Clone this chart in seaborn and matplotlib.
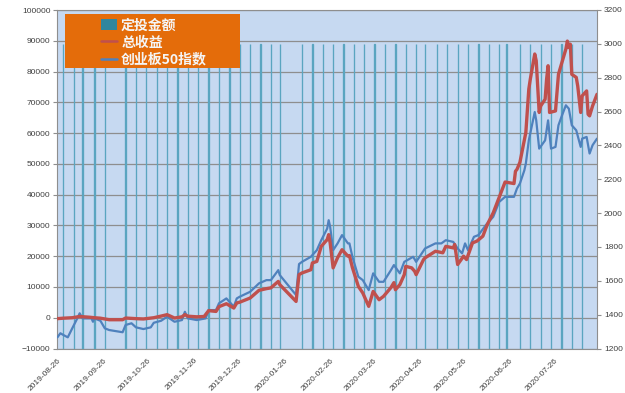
import matplotlib
matplotlib.use("Agg")
import matplotlib.pyplot as plt
import matplotlib.dates as mdates
from matplotlib.patches import Patch, Rectangle
from matplotlib.lines import Line2D
from matplotlib.font_manager import FontProperties
import pandas as pd
import seaborn as sns

# weekly fixed investment (right axis)
invest_dates = ["2019-08-30", "2019-09-06", "2019-09-12", "2019-09-20", "2019-09-27",
                "2019-10-11", "2019-10-18", "2019-10-25", "2019-11-01", "2019-11-08",
                "2019-11-15", "2019-11-22", "2019-11-29", "2019-12-06", "2019-12-13",
                "2019-12-20", "2019-12-27", "2020-01-03", "2020-01-10", "2020-01-17",
                "2020-01-23", "2020-02-07", "2020-02-14", "2020-02-21", "2020-02-28",
                "2020-03-06", "2020-03-13", "2020-03-20", "2020-03-27", "2020-04-03",
                "2020-04-10", "2020-04-17", "2020-04-24", "2020-04-30", "2020-05-08",
                "2020-05-15", "2020-05-22", "2020-05-29", "2020-06-05", "2020-06-12",
                "2020-06-19", "2020-06-24", "2020-07-03", "2020-07-10", "2020-07-17",
                "2020-07-24", "2020-07-31", "2020-08-07", "2020-08-14"]
invest_amount = [3000, 3000, 3000, 3000, 3000, 3000, 3000, 3000, 3000, 3000,
                 3000, 3000, 3000, 3000, 3000, 3000, 3000, 3000, 3000, 3000,
                 3000, 3000, 3000, 3000, 3000, 3000, 3000, 3000, 3000, 3000,
                 3000, 3000, 3000, 3000, 3000, 3000, 3000, 3000, 3000, 3000,
                 3000, 3000, 3000, 3000, 3000, 3000, 3000, 3000, 3000]

# total profit (left axis)
profit_dates = ["2019-08-26", "2019-08-30", "2019-09-05", "2019-09-10", "2019-09-17",
                "2019-09-20", "2019-09-24", "2019-09-30", "2019-10-09", "2019-10-11",
                "2019-10-18", "2019-10-23", "2019-10-30", "2019-11-05", "2019-11-08",
                "2019-11-13", "2019-11-18", "2019-11-20", "2019-11-22", "2019-11-28",
                "2019-12-03", "2019-12-06", "2019-12-11", "2019-12-13", "2019-12-18",
                "2019-12-23", "2019-12-25", "2019-12-27", "2020-01-03", "2020-01-09",
                "2020-01-14", "2020-01-17", "2020-01-22", "2020-01-23", "2020-02-03",
                "2020-02-05", "2020-02-07", "2020-02-13", "2020-02-14", "2020-02-17",
                "2020-02-20", "2020-02-24", "2020-02-25", "2020-02-26", "2020-02-28",
                "2020-03-02", "2020-03-05", "2020-03-09", "2020-03-10", "2020-03-12",
                "2020-03-16", "2020-03-19", "2020-03-23", "2020-03-26", "2020-03-30",
                "2020-04-02", "2020-04-07", "2020-04-09", "2020-04-10", "2020-04-13",
                "2020-04-16", "2020-04-17", "2020-04-21", "2020-04-23", "2020-04-24",
                "2020-04-29", "2020-04-30", "2020-05-07", "2020-05-12", "2020-05-14",
                "2020-05-19", "2020-05-20", "2020-05-22", "2020-05-26", "2020-05-28",
                "2020-06-01", "2020-06-04", "2020-06-08", "2020-06-11", "2020-06-15",
                "2020-06-19", "2020-06-23", "2020-06-29", "2020-06-30", "2020-07-01",
                "2020-07-03", "2020-07-07", "2020-07-09", "2020-07-10", "2020-07-13",
                "2020-07-14", "2020-07-16", "2020-07-17", "2020-07-20", "2020-07-21",
                "2020-07-22", "2020-07-23", "2020-07-27", "2020-07-29", "2020-07-31",
                "2020-08-03", "2020-08-04", "2020-08-05", "2020-08-06", "2020-08-07",
                "2020-08-10", "2020-08-11", "2020-08-13", "2020-08-14", "2020-08-17",
                "2020-08-18", "2020-08-19", "2020-08-21", "2020-08-24"]
profit = [-300, -150, 0, 400, 150, 0, -150, -650, -650, -100,
          -300, -400, 0, 650, 1000, -100, 300, 1000, 500, 300,
          400, 2300, 2050, 3600, 4550, 3150, 4800, 5050, 6400, 8900,
          9450, 9700, 11800, 10750, 5300, 14000, 14550, 15600, 17800, 18300,
          23200, 25400, 27000, 24300, 16200, 19500, 22100, 20000, 20200, 16300,
          10200, 8050, 3700, 8550, 5850, 6950, 9800, 11400, 9100, 10750,
          14000, 16700, 16200, 15100, 14000, 18900, 19450, 21600, 21100, 23200,
          22700, 23800, 17300, 20000, 18900, 24300, 24900, 26500, 30300, 34100,
          39100, 44100, 43600, 47600, 48200, 50500, 60200, 74300, 77500, 85700,
          83500, 66700, 68800, 71000, 77500, 81900, 66700, 67200, 79100, 82400,
          87300, 89900, 87800, 88900, 79100, 78100, 75300, 66700, 72100, 73700,
          66100, 65600, 68800, 72600]

# ChiNext 50 index (right axis)
index_dates = ["2019-08-26", "2019-08-28", "2019-08-30", "2019-09-02", "2019-09-05",
               "2019-09-09", "2019-09-10", "2019-09-12", "2019-09-18", "2019-09-19",
               "2019-09-20", "2019-09-24", "2019-09-27", "2019-09-30", "2019-10-09",
               "2019-10-11", "2019-10-15", "2019-10-18", "2019-10-23", "2019-10-28",
               "2019-10-30", "2019-11-04", "2019-11-08", "2019-11-13", "2019-11-18",
               "2019-11-20", "2019-11-22", "2019-11-28", "2019-12-04", "2019-12-06",
               "2019-12-11", "2019-12-13", "2019-12-18", "2019-12-23", "2019-12-25",
               "2019-12-27", "2020-01-03", "2020-01-09", "2020-01-14", "2020-01-17",
               "2020-01-22", "2020-01-23", "2020-02-03", "2020-02-05", "2020-02-07",
               "2020-02-13", "2020-02-14", "2020-02-17", "2020-02-20", "2020-02-24",
               "2020-02-25", "2020-02-26", "2020-02-28", "2020-03-02", "2020-03-05",
               "2020-03-09", "2020-03-10", "2020-03-12", "2020-03-16", "2020-03-19",
               "2020-03-23", "2020-03-26", "2020-03-30", "2020-04-02", "2020-04-07",
               "2020-04-09", "2020-04-13", "2020-04-16", "2020-04-22", "2020-04-24",
               "2020-04-30", "2020-05-07", "2020-05-11", "2020-05-14", "2020-05-19",
               "2020-05-22", "2020-05-25", "2020-05-27", "2020-05-29", "2020-06-02",
               "2020-06-05", "2020-06-10", "2020-06-15", "2020-06-19", "2020-06-23",
               "2020-06-29", "2020-07-01", "2020-07-03", "2020-07-06", "2020-07-07",
               "2020-07-09", "2020-07-13", "2020-07-14", "2020-07-16", "2020-07-20",
               "2020-07-22", "2020-07-24", "2020-07-27", "2020-07-29", "2020-07-31",
               "2020-08-03", "2020-08-05", "2020-08-07", "2020-08-10", "2020-08-13",
               "2020-08-14", "2020-08-17", "2020-08-19", "2020-08-21", "2020-08-24"]
index_values = [1266, 1290, 1280, 1266, 1319, 1388, 1408, 1378, 1378, 1358,
                1378, 1364, 1319, 1309, 1296, 1339, 1349, 1325, 1315, 1325,
                1352, 1364, 1388, 1358, 1368, 1417, 1378, 1368, 1378, 1427,
                1427, 1467, 1496, 1447, 1496, 1506, 1535, 1585, 1604, 1604,
                1663, 1634, 1516, 1699, 1712, 1742, 1752, 1781, 1840, 1909,
                1958, 1919, 1781, 1821, 1870, 1821, 1821, 1742, 1624, 1604,
                1545, 1644, 1594, 1594, 1663, 1693, 1644, 1712, 1742, 1712,
                1791, 1821, 1821, 1840, 1830, 1791, 1762, 1821, 1781, 1860,
                1870, 1929, 1978, 2066, 2096, 2096, 2145, 2175, 2253, 2293,
                2430, 2597, 2548, 2381, 2430, 2548, 2381, 2391, 2519, 2568,
                2637, 2617, 2519, 2489, 2391, 2440, 2450, 2352, 2401, 2440]

legend_labels = ["定投金额", "总收益", "创业板50指数"]

BAR_C = "#5AA5C0"
RED = "#C0504D"
BLUE = "#4F81BD"
GRID = "#8E8E8E"
TXT = "#404040"

sns.set_style("white")
plt.rcParams["font.family"] = ["Liberation Sans", "DejaVu Sans"]

fig = plt.figure(figsize=(6.25, 3.93), dpi=100)
pos = [57.4 / 625, 1 - 348.5 / 393, (597 - 57.4) / 625, (348.5 - 10) / 393]

# base axes: background, grid and left scale
ax = fig.add_axes(pos)
ax.set_facecolor("#C6D9F1")
ax.set_ylim(-10000, 100000)
ax.set_yticks(range(-10000, 100001, 10000))
ax.grid(axis="y", color=GRID, linewidth=0.9)
ax.grid(axis="x", visible=False)
for s in ax.spines.values():
    s.set_color(GRID)
    s.set_linewidth(0.8)

# right scale: bars + index
ax2 = ax.twinx()
ax2.grid(False)
ax2.bar(pd.to_datetime(invest_dates), invest_amount, width=0.2, color=BAR_C,
        edgecolor=BAR_C, linewidth=0.95, zorder=2)
sns.lineplot(x=pd.to_datetime(index_dates), y=index_values, ax=ax2,
             color=BLUE, linewidth=1.6, zorder=3)
ax2.set_ylim(1200, 3200)
ax2.set_yticks(range(1200, 3201, 200))
ax2.set_ylabel("")
for s in ax2.spines.values():
    s.set_visible(False)

# total profit on top, same scale as left axis
ax3 = fig.add_axes(pos, sharex=ax, sharey=ax)
ax3.patch.set_visible(False)
sns.lineplot(x=pd.to_datetime(profit_dates), y=profit, ax=ax3,
             color=RED, linewidth=2.4)
ax3.set_axis_off()

ax.set_xlim(pd.Timestamp("2019-08-26"), pd.Timestamp("2020-08-24"))
ax.xaxis.set_major_locator(mdates.MonthLocator(bymonthday=26))
ax.xaxis.set_major_formatter(mdates.DateFormatter("%Y-%m-%d"))

ax.tick_params(axis="y", labelsize=6, colors=TXT, length=3, color=GRID, pad=2)
ax.tick_params(axis="x", labelsize=6, colors=TXT, length=0, pad=6)
ax2.tick_params(axis="y", labelsize=6, colors=TXT, length=3, color=GRID, pad=2)
for lab in ax.get_xticklabels():
    lab.set_rotation(45)
    lab.set_ha("right")
    lab.set_rotation_mode("anchor")

# legend box
fig.patches.append(Rectangle((65 / 625, 1 - 68 / 393), 175 / 625, 54 / 393,
                             transform=fig.transFigure, facecolor="#E46C0A",
                             edgecolor="none", zorder=5))
handles = [Patch(facecolor="#31869E", edgecolor="none"),
           Line2D([], [], color=RED, linewidth=1.8),
           Line2D([], [], color=BLUE, linewidth=1.8)]
leg = fig.legend(handles, legend_labels, loc="upper left",
                 bbox_to_anchor=(101 / 625, 1 - 18.5 / 393), frameon=False,
                 prop=FontProperties(family=["Noto Sans CJK SC", "DejaVu Sans"],
                                     weight="bold", size=10),
                 labelcolor="#F5F5F5", handlelength=1.15, handleheight=0.8,
                 handletextpad=0.3, labelspacing=0.22, borderpad=0,
                 borderaxespad=0)
leg.set_zorder(6)

fig.savefig("out.png", dpi=100)
